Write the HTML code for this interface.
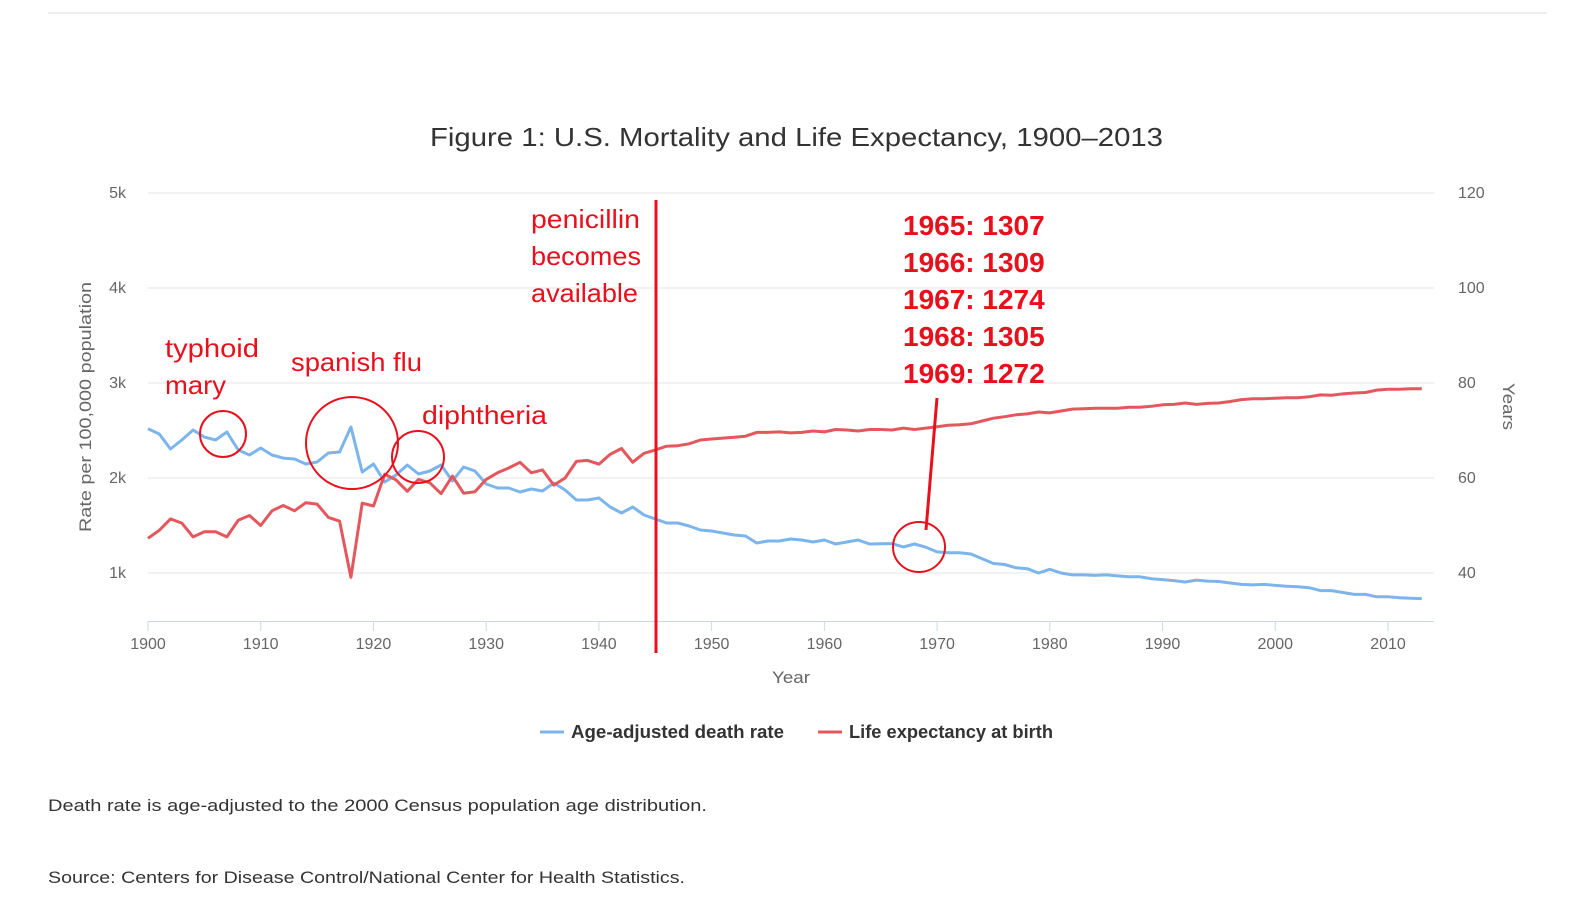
<!DOCTYPE html>
<html><head><meta charset="utf-8"><style>
body{margin:0;background:#fff;font-family:"Liberation Sans",sans-serif;}
svg{display:block}
</style></head><body>
<svg width="1569" height="909" id="c" font-family="Liberation Sans, sans-serif">
<line x1="48" y1="13" x2="1547" y2="13" stroke="#ddd"/>
<text x="430" y="146" font-size="26" fill="#333" textLength="733" lengthAdjust="spacingAndGlyphs">Figure 1: U.S. Mortality and Life Expectancy, 1900–2013</text>
<g id="grid"></g><g id="axes"></g><g id="series"></g>
<text x="772" y="683" font-size="17" fill="#666" textLength="38" lengthAdjust="spacingAndGlyphs">Year</text>
<text transform="translate(91,532) rotate(-90)" font-size="17" fill="#666" textLength="250" lengthAdjust="spacingAndGlyphs">Rate per 100,000 population</text>
<text transform="translate(1503,383) rotate(90)" font-size="17" fill="#666" textLength="47" lengthAdjust="spacingAndGlyphs">Years</text>
<g>
<g><line x1="540" y1="732" x2="564" y2="732" stroke="#7cb5ec" stroke-width="3"/><text x="571" y="738" font-size="18" font-weight="bold" fill="#333" textLength="213" lengthAdjust="spacingAndGlyphs">Age-adjusted death rate</text></g>
<g><line x1="818" y1="732" x2="842" y2="732" stroke="#e4575c" stroke-width="3"/><text x="849" y="738" font-size="18" font-weight="bold" fill="#333" textLength="204" lengthAdjust="spacingAndGlyphs">Life expectancy at birth</text></g>
</g>
<text x="48" y="811" font-size="17" fill="#333" textLength="659" lengthAdjust="spacingAndGlyphs">Death rate is age-adjusted to the 2000 Census population age distribution.</text>
<text x="48" y="883" font-size="17" fill="#333" textLength="637" lengthAdjust="spacingAndGlyphs">Source: Centers for Disease Control/National Center for Health Statistics.</text>
<g fill="none" stroke="#e8101c" stroke-width="2">
<line x1="656" y1="200" x2="656" y2="653" stroke-width="3"/>
<circle cx="223" cy="434" r="23"/>
<circle cx="352" cy="443" r="46"/>
<circle cx="418" cy="457" r="26"/>
<ellipse cx="919" cy="547" rx="26" ry="25"/>
<line x1="937" y1="398" x2="926" y2="530" stroke-width="3"/>
</g>
<g fill="#e8101c" font-size="26">
<text x="165" y="357" textLength="94" lengthAdjust="spacingAndGlyphs">typhoid</text><text x="165" y="394" textLength="61" lengthAdjust="spacingAndGlyphs">mary</text>
<text x="291" y="371" textLength="131" lengthAdjust="spacingAndGlyphs">spanish flu</text>
<text x="422" y="424" textLength="125" lengthAdjust="spacingAndGlyphs">diphtheria</text>
<text x="531" y="228" textLength="109" lengthAdjust="spacingAndGlyphs">penicillin</text><text x="531" y="265" textLength="110" lengthAdjust="spacingAndGlyphs">becomes</text><text x="531" y="302" textLength="107" lengthAdjust="spacingAndGlyphs">available</text>
<g font-weight="bold" font-size="28"><text x="903" y="235">1965: 1307</text><text x="903" y="272">1966: 1309</text><text x="903" y="309">1967: 1274</text><text x="903" y="346">1968: 1305</text><text x="903" y="383">1969: 1272</text></g>
</g>
</svg>
<script>
const years=[];for(let y=1900;y<=2013;y++)years.push(y);
const deathRate=[2518,2463,2305,2400,2505,2430,2400,2484,2295,2242,2316,2242,2210,2200,2147,2168,2263,2274,2537,2063,2147,1958,2032,2137,2042,2074,2137,1968,2116,2074,1937,1895,1895,1853,1884,1863,1947,1874,1768,1768,1789,1695,1632,1695,1610,1568,1526,1526,1495,1453,1442,1421,1400,1389,1316,1337,1337,1358,1347,1326,1347,1305,1326,1347,1305,1307,1309,1274,1305,1272,1222,1213,1213,1200,1150,1100,1090,1055,1045,1000,1039,1000,980,980,975,980,970,960,960,940,930,920,905,925,915,910,895,880,875,880,870,860,855,845,815,815,795,775,775,750,750,740,735,730];
const lifeExp=[47.3,49,51.4,50.5,47.6,48.7,48.7,47.6,51.1,52.1,50.0,53.1,54.2,53.1,54.8,54.5,51.7,50.9,39.1,54.7,54.1,60.8,59.6,57.2,59.7,59.0,56.7,60.4,56.8,57.1,59.7,61.1,62.1,63.3,61.1,61.7,58.5,60.0,63.5,63.7,62.9,65.0,66.2,63.3,65.2,65.9,66.7,66.8,67.2,68.0,68.2,68.4,68.6,68.8,69.6,69.6,69.7,69.5,69.6,69.9,69.7,70.2,70.1,69.9,70.2,70.2,70.1,70.5,70.2,70.5,70.8,71.1,71.2,71.4,72.0,72.6,72.9,73.3,73.5,73.9,73.7,74.1,74.5,74.6,74.7,74.7,74.7,74.9,74.9,75.1,75.4,75.5,75.8,75.5,75.7,75.8,76.1,76.5,76.7,76.7,76.8,76.9,76.9,77.1,77.5,77.4,77.7,77.9,78.0,78.5,78.7,78.7,78.8,78.8];
const leftTicks=[1000,2000,3000,4000,5000];
const leftLabels=["1k","2k","3k","4k","5k"];
const rightTicks=[40,60,80,100,120];
const xTicks=[1900,1910,1920,1930,1940,1950,1960,1970,1980,1990,2000,2010];
const NS="http://www.w3.org/2000/svg";
const X=v=>148+(v-1900)*(1388-148)/110;
const YL=v=>573-(v-1000)*95/1000;
const YR=v=>573-(v-40)*4.75;
function mk(tag,attrs,parent,txt){const e=document.createElementNS(NS,tag);for(const k in attrs)e.setAttribute(k,attrs[k]);if(txt!==undefined)e.textContent=txt;document.getElementById(parent).appendChild(e);return e;}
leftTicks.forEach((t,i)=>{
 const g=mk('line',{x1:148,x2:1434,y1:YL(t),y2:YL(t),stroke:'#e6e6e6'},'grid');
 
 
 const l=mk('text',{x:126,y:YL(t)+5,'text-anchor':'end','font-size':16,fill:'#666'},'axes',leftLabels[i]);
 
 
});
rightTicks.forEach(t=>{
 const l=mk('text',{x:1458,y:YR(t)+5,'font-size':16,fill:'#666'},'axes',String(t));
 
 
});
const ax=mk('line',{x1:148,x2:1434,y1:621.5,y2:621.5,stroke:'#ccd6eb'},'axes');


xTicks.forEach(t=>{
 const tk=mk('line',{x1:X(t),x2:X(t),y1:621,y2:631,stroke:'#ccd6eb'},'axes');
 
 
 const l=mk('text',{x:X(t),y:649,'text-anchor':'middle','font-size':16,fill:'#666'},'axes',String(t));
 
 
});
const p1=mk('path',{d:years.map((y,i)=>(i?'L':'M')+X(y).toFixed(1)+','+YL(deathRate[i]).toFixed(1)).join(''),fill:'none',stroke:'#7cb5ec','stroke-width':3,'stroke-linejoin':'round'},'series');


const p2=mk('path',{d:years.map((y,i)=>(i?'L':'M')+X(y).toFixed(1)+','+YR(lifeExp[i]).toFixed(1)).join(''),fill:'none',stroke:'#e4575c','stroke-width':3,'stroke-linejoin':'round'},'series');


</script>
</body></html>
